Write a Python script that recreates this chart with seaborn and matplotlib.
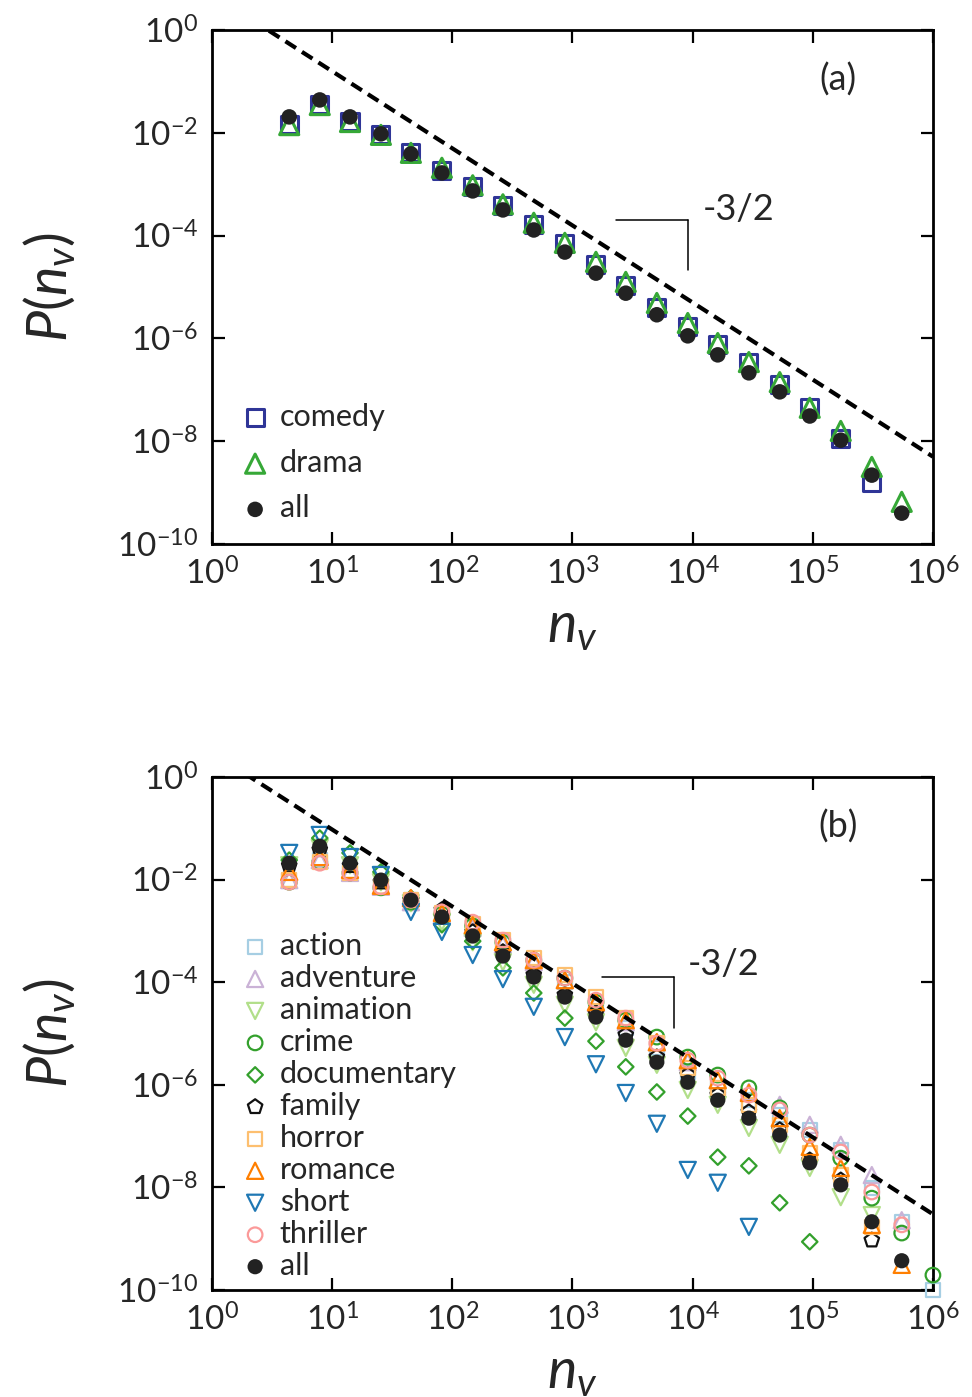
import numpy as np
import matplotlib
matplotlib.use("Agg")
import matplotlib.pyplot as plt
import seaborn as sns

# ----------------------------------------------------------
# data (x = n_v bin centres, y = log10 P)
# ----------------------------------------------------------

n_bins = [4.4, 7.9, 14.1, 25.5, 45.3, 82, 148, 264, 477, 865, 1570, 2780,
          5040, 9120, 16200, 29400, 53100, 94400, 171000, 310000, 550000,
          1000000]

# panel (a)
comedy_log = [-1.83, -1.44, -1.77, -2.04, -2.39, -2.74, -3.05, -3.42, -3.79,
              -4.16, -4.57, -4.98, -5.39, -5.76, -6.11, -6.46, -6.89, -7.35,
              -7.94, -8.81]
drama_log = [-1.85, -1.46, -1.79, -2.04, -2.39, -2.68, -3.02, -3.39, -3.75,
             -4.14, -4.51, -4.90, -5.31, -5.70, -6.09, -6.46, -6.85, -7.35,
             -7.80, -8.50, -9.18]
all_a_log = [-1.69, -1.36, -1.69, -2.02, -2.41, -2.78, -3.13, -3.50, -3.89,
             -4.32, -4.73, -5.12, -5.54, -5.95, -6.32, -6.67, -7.04, -7.51,
             -7.98, -8.66, -9.40]

# panel (b)
action_log = [-2.01, -1.62, -1.85, -2.14, -2.40, -2.69, -2.94, -3.27, -3.63,
              -4.00, -4.48, -4.89, -5.28, -5.75, -6.06, -6.30, -6.59, -6.88,
              -7.27, -8.01, -8.67, -10.0]
adventure_log = [-2.01, -1.62, -1.87, -2.14, -2.44, -2.69, -2.94, -3.27, -3.61,
                 -3.96, -4.41, -4.78, -5.17, -5.56, -5.91, -6.14, -6.39, -6.78,
                 -7.17, -7.76, -8.64]
animation_log = [-1.72, -1.38, -1.72, -2.05, -2.46, -2.83, -3.22, -3.61, -4.05,
                 -4.44, -4.78, -5.28, -5.61, -6.10, -6.39, -6.84, -7.17, -7.62,
                 -8.19, -8.54]
crime_log = [-2.05, -1.66, -1.87, -2.16, -2.44, -2.67, -2.90, -3.22, -3.57,
             -3.92, -4.39, -4.74, -5.07, -5.46, -5.81, -6.06, -6.45, -6.98,
             -7.43, -8.21, -8.89, -9.71]
documentary_log = [-1.62, -1.19, -1.48, -1.85, -2.36, -2.88, -3.20, -3.72,
                   -4.21, -4.70, -5.15, -5.65, -6.14, -6.61, -7.41, -7.58,
                   -8.30, -9.06]
family_log = [-1.73, -1.42, -1.73, -2.05, -2.40, -2.59, -3.02, -3.41, -3.86,
              -4.25, -4.60, -5.03, -5.46, -5.81, -6.20, -6.53, -6.88, -7.47,
              -7.86, -9.03]
horror_log = [-2.01, -1.66, -1.87, -2.14, -2.40, -2.65, -2.87, -3.18, -3.53,
              -3.86, -4.29, -4.70, -5.19, -5.67, -6.06, -6.39, -6.78, -7.33,
              -7.76, -8.77]
romance_log = [-1.85, -1.56, -1.81, -2.12, -2.36, -2.65, -2.89, -3.22, -3.57,
               -3.96, -4.39, -4.74, -5.17, -5.52, -5.91, -6.16, -6.65, -7.21,
               -7.62, -8.73, -9.51]
short_log = [-1.48, -1.13, -1.56, -1.91, -2.63, -3.02, -3.47, -3.94, -4.48,
             -5.07, -5.60, -6.16, -6.76, -7.66, -7.91, -8.77]
thriller_log = [-2.05, -1.68, -1.87, -2.14, -2.40, -2.63, -2.83, -3.18, -3.57,
                -3.92, -4.35, -4.70, -5.19, -5.52, -5.87, -6.20, -6.49, -6.98,
                -7.31, -8.09, -8.73]
all_b_log = [-1.68, -1.35, -1.68, -2.01, -2.40, -2.73, -3.10, -3.49, -3.90,
             -4.29, -4.68, -5.13, -5.56, -5.95, -6.30, -6.65, -6.98, -7.52,
             -7.95, -8.67, -9.43]

# -3/2 guide amplitudes
guide_amp_a = 5.0
guide_amp_b = 3.0

# ----------------------------------------------------------
# style
# ----------------------------------------------------------

sns.set_style("ticks")
plt.rcParams["font.family"] = ["Lato", "DejaVu Sans"]
plt.rcParams["mathtext.fontset"] = "custom"
plt.rcParams["mathtext.rm"] = "Lato"
plt.rcParams["mathtext.it"] = "Lato:italic"
plt.rcParams["mathtext.bf"] = "Lato:bold"

fig = plt.figure(figsize=(9.72, 13.97), dpi=100)
ax_a = fig.add_axes([0.218, 0.6106, 0.7418, 0.3679])
ax_b = fig.add_axes([0.218, 0.0766, 0.7418, 0.3672])


def scatter(ax, logs, label, marker, color, size, lw, filled=False):
    x = n_bins[:len(logs)]
    y = 10 ** np.array(logs)
    if filled:
        sns.scatterplot(x=x, y=y, ax=ax, marker=marker, s=size, color=color,
                        edgecolor="none", label=label, clip_on=False, zorder=5)
    else:
        sns.scatterplot(x=x, y=y, ax=ax, marker=marker, s=size, color=color,
                        facecolor="none", edgecolor=color, linewidth=lw,
                        label=label, clip_on=False, zorder=4)


def style_axes(ax):
    ax.set_xscale("log")
    ax.set_yscale("log")
    ax.set_xlim(1, 1e6)
    ax.set_ylim(1e-10, 1)
    ax.set_xticks([10.0 ** k for k in range(0, 7)])
    ax.set_yticks([10.0 ** k for k in range(0, -11, -2)])
    ax.xaxis.set_minor_locator(matplotlib.ticker.NullLocator())
    ax.yaxis.set_minor_locator(matplotlib.ticker.NullLocator())
    ax.tick_params(which="major", direction="in", length=9, width=1.6,
                   top=True, right=True, labelsize=24, pad=10, color="black")
    for sp in ax.spines.values():
        sp.set_linewidth(2.0)
        sp.set_color("black")
        sp.set_visible(True)
    ax.set_xlabel(r"$n_v$", fontsize=40, labelpad=8)
    ax.set_ylabel(r"$P(n_v)$", fontsize=40, labelpad=28)


def guide(ax, amp, x0, x1, yh, yv, tx, ty):
    xs = np.logspace(0, 6, 50)
    ax.plot(xs, amp * xs ** -1.5, color="black", lw=3.0, ls=(0, (3.0, 1.7)),
            zorder=6)
    ax.plot([x0, x1], [yh, yh], color="black", lw=1.1, zorder=6)
    ax.plot([x1, x1], [yh, yv], color="black", lw=1.1, zorder=6)
    ax.text(tx, ty, "-3/2", fontsize=26, ha="left", va="center")


# ==========================================================
# Panel (a)
# ==========================================================

scatter(ax_a, comedy_log, "comedy", "s", "#2f3597", 150, 2.2)
scatter(ax_a, drama_log, "drama", "^", "#36a837", 190, 2.2)
scatter(ax_a, all_a_log, "all", "o", "#222222", 125, 0, filled=True)
style_axes(ax_a)
guide(ax_a, guide_amp_a, 2290, 9120, 2.0e-4, 2.1e-5, 12200, 3.2e-4)
ax_a.text(0.868, 0.903, "(a)", transform=ax_a.transAxes, fontsize=26,
          ha="center", va="center")
ax_a.legend(loc="lower left", bbox_to_anchor=(0.043, 0.042), frameon=False,
            fontsize=22, handlelength=0.8, handletextpad=0.4,
            labelspacing=0.58, borderpad=0, borderaxespad=0)

# ==========================================================
# Panel (b)
# ==========================================================

genres = [
    ("action", action_log, "s", "#a6cee3", 105),
    ("adventure", adventure_log, "^", "#cab2d6", 135),
    ("animation", animation_log, "v", "#b2df8a", 135),
    ("crime", crime_log, "o", "#33a02c", 110),
    ("documentary", documentary_log, "D", "#33a02c", 62),
    ("family", family_log, "p", "#111111", 120),
    ("horror", horror_log, "s", "#fdbf6f", 105),
    ("romance", romance_log, "^", "#ff7f00", 135),
    ("short", short_log, "v", "#1f78b4", 135),
    ("thriller", thriller_log, "o", "#fb9a99", 110),
]
for name, logs, mk, col, sz in genres:
    scatter(ax_b, logs, name, mk, col, sz, 1.6)
scatter(ax_b, all_b_log, "all", "o", "#222222", 120, 0, filled=True)
style_axes(ax_b)
guide(ax_b, guide_amp_b, 1758, 6980, 1.26e-4, 1.29e-5, 9120, 2.2e-4)
ax_b.text(0.868, 0.903, "(b)", transform=ax_b.transAxes, fontsize=26,
          ha="center", va="center")
ax_b.legend(loc="lower left", bbox_to_anchor=(0.043, 0.02), frameon=False,
            fontsize=22, handlelength=0.8, handletextpad=0.4,
            labelspacing=0.13, borderpad=0, borderaxespad=0)

fig.savefig("out.png", dpi=100, facecolor="white")
